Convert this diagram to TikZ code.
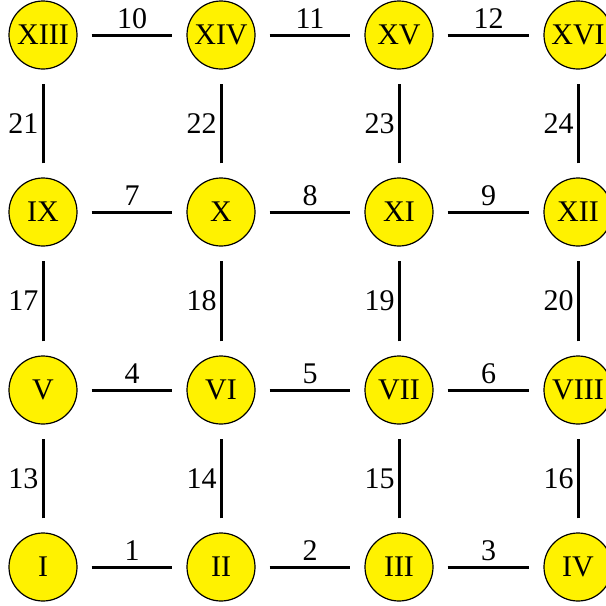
\documentclass[tikz,border=0pt]{standalone}
\usepackage{fontspec}
\setmainfont{Liberation Serif}
\begin{document}
\begin{tikzpicture}[x=1pt,y=-1pt,
  vtx/.style={circle,draw=black,line width=1.2pt,fill=yellow,minimum size=68pt,inner sep=0pt,font=\fontsize{30}{34}\selectfont},
  conn/.style={line width=3pt,shorten >=14pt,shorten <=14pt},
  hlab/.style={midway,above=5pt,inner sep=0pt,font=\fontsize{30}{34}\selectfont},
  vlab/.style={midway,left=3pt,inner sep=0pt,font=\fontsize{30}{34}\selectfont}]
\useasboundingbox (0,0) rectangle (606,606);
\def\xa{43}\def\xb{221}\def\xc{399}\def\xd{578}
\def\ya{567}\def\yb{390}\def\yc{212}\def\yd{35}
\node[vtx] (n1) at (\xa,\ya) {I};
\node[vtx] (n2) at (\xb,\ya) {II};
\node[vtx] (n3) at (\xc,\ya) {III};
\node[vtx] (n4) at (\xd,\ya) {IV};
\node[vtx] (n5) at (\xa,\yb) {V};
\node[vtx] (n6) at (\xb,\yb) {VI};
\node[vtx] (n7) at (\xc,\yb) {VII};
\node[vtx] (n8) at (\xd,\yb) {VIII};
\node[vtx] (n9) at (\xa,\yc) {IX};
\node[vtx] (n10) at (\xb,\yc) {X};
\node[vtx] (n11) at (\xc,\yc) {XI};
\node[vtx] (n12) at (\xd,\yc) {XII};
\node[vtx] (n13) at (\xa,\yd) {XIII};
\node[vtx] (n14) at (\xb,\yd) {XIV};
\node[vtx] (n15) at (\xc,\yd) {XV};
\node[vtx] (n16) at (\xd,\yd) {XVI};
% horizontal
\draw[conn] (n1) -- node[hlab] {1} (n2);
\draw[conn] (n2) -- node[hlab] {2} (n3);
\draw[conn] (n3) -- node[hlab] {3} (n4);
\draw[conn] (n5) -- node[hlab] {4} (n6);
\draw[conn] (n6) -- node[hlab] {5} (n7);
\draw[conn] (n7) -- node[hlab] {6} (n8);
\draw[conn] (n9) -- node[hlab] {7} (n10);
\draw[conn] (n10) -- node[hlab] {8} (n11);
\draw[conn] (n11) -- node[hlab] {9} (n12);
\draw[conn] (n13) -- node[hlab] {10} (n14);
\draw[conn] (n14) -- node[hlab] {11} (n15);
\draw[conn] (n15) -- node[hlab] {12} (n16);
% vertical
\draw[conn] (n1) -- node[vlab] {13} (n5);
\draw[conn] (n2) -- node[vlab] {14} (n6);
\draw[conn] (n3) -- node[vlab] {15} (n7);
\draw[conn] (n4) -- node[vlab] {16} (n8);
\draw[conn] (n5) -- node[vlab] {17} (n9);
\draw[conn] (n6) -- node[vlab] {18} (n10);
\draw[conn] (n7) -- node[vlab] {19} (n11);
\draw[conn] (n8) -- node[vlab] {20} (n12);
\draw[conn] (n9) -- node[vlab] {21} (n13);
\draw[conn] (n10) -- node[vlab] {22} (n14);
\draw[conn] (n11) -- node[vlab] {23} (n15);
\draw[conn] (n12) -- node[vlab] {24} (n16);
\end{tikzpicture}
\end{document}
